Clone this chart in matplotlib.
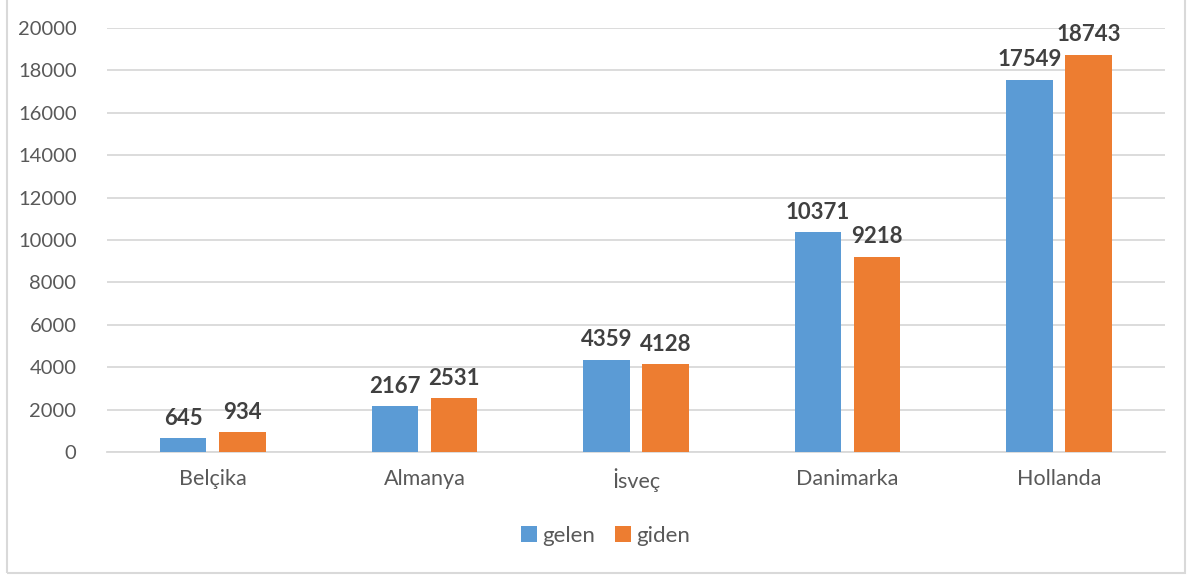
import numpy as np
import matplotlib.pyplot as plt
from matplotlib.patches import Rectangle

# data
countries = ['Belçika', 'Almanya', 'İsveç', 'Danimarka', 'Hollanda']
gelen = [645, 2167, 4359, 10371, 17549]
giden = [934, 2531, 4128, 9218, 18743]

plt.rcParams['font.family'] = ['Lato', 'DejaVu Sans']

fig = plt.figure(figsize=(11.92, 5.76), dpi=100)
ax = fig.add_axes([0.0898, 0.2153, 0.8875, 0.7361])

x = np.arange(len(countries))
w = 0.22
b1 = ax.bar(x - 0.14, gelen, w, color='#5B9BD5', label='gelen', zorder=3)
b2 = ax.bar(x + 0.14, giden, w, color='#ED7D31', label='giden', zorder=3)

for bars in (b1, b2):
    for r in bars:
        ax.text(r.get_x() + r.get_width() / 2, r.get_height() + 450, str(int(r.get_height())),
                ha='center', va='bottom', fontsize=16, fontweight='bold', color='#404040')

ax.set_xlim(-0.5, len(countries) - 0.5)
ax.set_ylim(0, 20000)
ax.set_yticks(np.arange(0, 20001, 2000))
ax.set_xticks(x)
ax.set_xticklabels(countries)
ax.tick_params(axis='both', length=0, labelcolor='#595959')
ax.tick_params(axis='y', pad=22, labelsize=14.5)
ax.tick_params(axis='x', pad=12, labelsize=15.5)
ax.grid(axis='y', color='#D9D9D9', linewidth=1.3, zorder=0)
for s in ['top', 'right', 'left']:
    ax.spines[s].set_visible(False)
ax.spines['bottom'].set_color('#D9D9D9')
ax.spines['bottom'].set_linewidth(1.3)

leg = fig.legend(loc='center', bbox_to_anchor=(0.508, 0.07), ncol=2, frameon=False,
                 fontsize=16, handlelength=0.7, handleheight=0.7, handletextpad=0.25,
                 columnspacing=0.9)
for t in leg.get_texts():
    t.set_color('#595959')

# outer chart frame
fig.patches.append(Rectangle((0.006, 0.005), 0.988, 1.2, transform=fig.transFigure,
                             fill=False, edgecolor='#D9D9D9', linewidth=1.5))

fig.savefig('out.png', dpi=100)
